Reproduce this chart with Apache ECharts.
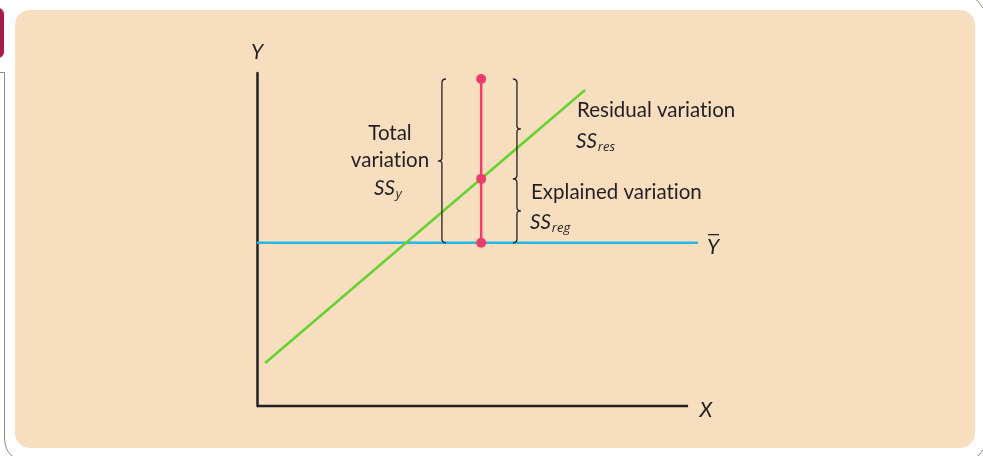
<!DOCTYPE html>
<html><head><meta charset="utf-8">
<script src="https://cdn.jsdelivr.net/npm/echarts@6/dist/echarts.min.js"></script>
<style>html,body{margin:0;padding:0;background:#fff}#c{width:983px;height:456px}</style>
</head><body><div id="c"></div>
<script>
// Data (axis units: x 0..10.23, y 0..10)
const xAxisLineX = [0, 10];
const yBar = 4.9;
const meanLineX = [0, 10.23];
const regressionX = [0.19, 7.61];
const regressionY = [1.29, 9.49];
const pointX = 5.2;
const pointYs = [9.82, 6.82, 4.9];
// braces: [x, yTop, yBottom, side]  side: -1 tip left, 1 tip right
const braces = [[4.29, 9.82, 4.9, -1], [6.03, 9.82, 6.82, 1], [6.03, 6.82, 4.9, 1]];

const chart = echarts.init(document.getElementById('c'));
const FONT = 'Lato';
const ink = '#231F20';
const gray = '#8C8C80';
const FS = 20.5;
const nolig = s => s.replace(/ti/g, 't\u200Ci').replace(/fi/g, 'f\u200Ci');
const sub = (main, s, x, y) => ({type:'text', x:x, y:y, style:{text:'{a|'+main+'}{b|'+s+'}', align:'left', verticalAlign:'middle',
      rich:{a:{font:'italic '+FS+'px '+FONT, fill:ink}, b:{font:'italic 13px "Open Sans"', fill:ink, padding:[12,0,0,1]}}}});
chart.setOption({
  backgroundColor: '#ffffff',
  animation: false,
  graphic: [
    {type:'rect', shape:{x:15,y:10,width:960,height:438,r:15}, style:{fill:'#F6DEBF'}, z:-10},
    {type:'rect', shape:{x:-10,y:8,width:14,height:50,r:[0,6,6,0]}, style:{fill:'#A51C4A'}, z:-10},
    {type:'polyline', shape:{points:[[0,72.5],[4.5,72.5],[4.5,438]]}, style:{fill:null, stroke:gray, lineWidth:1}, z:-10},
    {type:'bezierCurve', shape:{x1:4.5,y1:438,cpx1:4.5,cpy1:452,x2:15,y2:458}, style:{fill:null, stroke:gray, lineWidth:1}, z:-10},
    {type:'bezierCurve', shape:{x1:974,y1:-2,cpx1:980,cpy1:2,x2:983,y2:8}, style:{fill:null, stroke:gray, lineWidth:1}, z:-10},
    {type:'bezierCurve', shape:{x1:978,y1:456,cpx1:981,cpy1:453,x2:983,y2:450}, style:{fill:null, stroke:gray, lineWidth:1}, z:-10},
    {type:'text', x:257, y:52, style:{text:'Y', font:'italic 21px '+FONT, fill:ink, align:'center', verticalAlign:'middle'}},
    {type:'text', x:706, y:410, style:{text:'X', font:'italic 21px '+FONT, fill:ink, align:'center', verticalAlign:'middle'}},
    {type:'text', x:713, y:247, style:{text:'Y', font:'italic 21px '+FONT, fill:ink, align:'center', verticalAlign:'middle'}},
    {type:'rect', shape:{x:708,y:234,width:11,height:1.3}, style:{fill:ink}},
    {type:'text', x:390, y:133, style:{text:'Total', font:FS+'px '+FONT, fill:ink, align:'center', verticalAlign:'middle'}},
    {type:'text', x:390, y:160, style:{text:nolig('variation'), font:FS+'px '+FONT, fill:ink, align:'center', verticalAlign:'middle'}},
    sub('SS','y',374,188),
    {type:'text', x:577, y:110, style:{text:nolig('Residual variation'), font:FS+'px '+FONT, fill:ink, align:'left', verticalAlign:'middle'}},
    sub('SS','res',576,141),
    {type:'text', x:531, y:192, style:{text:nolig('Explained variation'), font:FS+'px '+FONT, fill:ink, align:'left', verticalAlign:'middle'}},
    sub('SS','reg',530,222)
  ],
  grid: {left:257, top:73, width:441, height:333},
  xAxis: {type:'value', min:0, max:10.23, axisLine:{show:false}, axisTick:{show:false}, axisLabel:{show:false}, splitLine:{show:false}},
  yAxis: {type:'value', min:0, max:10, axisLine:{show:true, lineStyle:{color:ink, width:2.5}}, axisTick:{show:false}, axisLabel:{show:false}, splitLine:{show:false}},
  series: [
    {type:'line', data: xAxisLineX.map(x=>[x,0]), symbol:'none', clip:false, lineStyle:{color:ink, width:2.5}, z:1},
    {type:'line', data: meanLineX.map(x=>[x,yBar]), symbol:'none', lineStyle:{color:'#29B5E8', width:2.5}, z:2},
    {type:'line', data: regressionX.map((x,i)=>[x,regressionY[i]]), symbol:'none', lineStyle:{color:'#66D22E', width:2.5}, z:3},
    {type:'line', data: pointYs.map(y=>[pointX,y]), symbol:'circle', symbolSize:10, showSymbol:true,
      lineStyle:{color:'#EE3D6B', width:2.5}, itemStyle:{color:'#EE3D6B'}, z:5},
    {type:'custom', data: braces, z:4,
      renderItem: function(params, api){
        const x = api.value(0), s = api.value(3);
        const p1 = api.coord([x, api.value(1)]);
        const p2 = api.coord([x, api.value(2)]);
        const px = p1[0], y1 = p1[1], y2 = p2[1], ym = (y1+y2)/2;
        const e = -s*4, t = s*4;
        const d = `M${px+e},${y1} Q${px},${y1} ${px},${y1+4} L${px},${ym-3} Q${px},${ym} ${px+t},${ym} Q${px},${ym} ${px},${ym+3} L${px},${y2-4} Q${px},${y2} ${px+e},${y2}`;
        return {type:'path', shape:{pathData:d}, style:{fill:null, stroke:ink, lineWidth:1.3}};
      }}
  ]
});
</script></body></html>
